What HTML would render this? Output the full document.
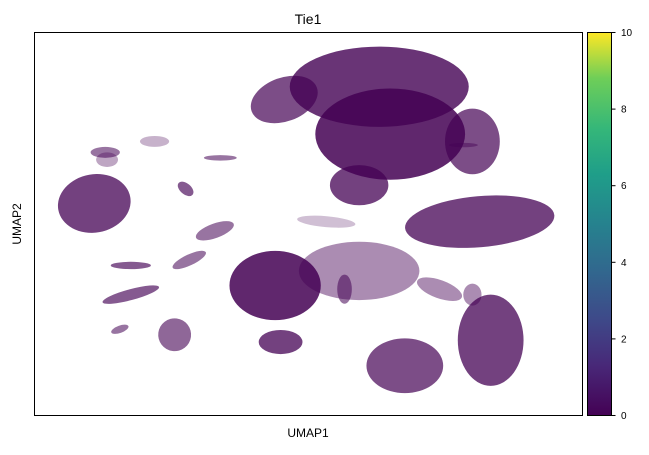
<!DOCTYPE html>
<html><head><meta charset="utf-8"><style>
body{margin:0;background:#fff;font-family:"Liberation Sans",sans-serif;}
svg text{font-family:"Liberation Sans",sans-serif;}
</style></head><body>
<svg id="chart" width="649" height="450">
<defs>
<linearGradient id="vir" x1="0" y1="1" x2="0" y2="0">
<stop offset="0" stop-color="#440154"/><stop offset="0.13" stop-color="#482878"/>
<stop offset="0.25" stop-color="#3e4989"/><stop offset="0.38" stop-color="#31688e"/>
<stop offset="0.5" stop-color="#26828e"/><stop offset="0.63" stop-color="#1f9e89"/>
<stop offset="0.75" stop-color="#35b779"/><stop offset="0.88" stop-color="#6ece58"/>
<stop offset="1" stop-color="#fde725"/>
</linearGradient>
<clipPath id="clip"><rect x="34" y="32" width="548" height="383"/></clipPath>
</defs>
<text x="308" y="24" font-size="14" text-anchor="middle">Tie1</text>
<g id="pts" clip-path="url(#clip)"></g>
<rect x="34.5" y="32.5" width="548" height="383" fill="none" stroke="#000" stroke-width="1"/>
<text x="308" y="437" font-size="12" text-anchor="middle">UMAP1</text>
<text x="21" y="224" font-size="12" text-anchor="middle" transform="rotate(-90 21 224)">UMAP2</text>
<rect x="587.5" y="32.5" width="24" height="383" fill="url(#vir)" stroke="#000" stroke-width="1"/>
<g id="cbticks"></g>
</svg>
<script>
const clusterX = [18.9,19.5,13.7,17.8,24.4,13.2,17.8,13.5,20.3,25.0,3.3,5.3,5.3,7.7,4.7,3.9,9.9,8.3,10.2,8.5,22.2,24.0,17.0,16.0,23.5,24.0,4.0,6.6];
const clusterY = [18.0,15.4,17.3,12.6,10.6,7.1,7.9,4.0,2.7,4.1,11.6,8.2,6.6,4.4,4.7,14.4,10.1,12.4,14.1,8.5,6.9,6.6,6.9,10.6,14.8,15.0,14.0,15.0];
const clusterRX = [4.9,4.1,1.9,1.6,4.1,2.5,3.3,1.2,2.1,1.8,2.0,1.1,1.6,0.9,0.5,0.8,1.1,0.5,0.9,1.0,1.3,0.5,0.4,1.6,0.8,1.5,0.6,0.8];
const clusterRY = [2.2,2.5,1.2,1.1,1.4,1.9,1.6,0.66,1.5,2.5,1.6,0.2,0.3,0.9,0.2,0.3,0.4,0.3,0.15,0.3,0.5,0.6,0.8,0.3,0.12,1.8,0.4,0.3];
const clusterRot = [0,0,-20,0,-5,0,0,0,0,0,-10,0,-15,30,-20,0,-20,40,0,-25,20,0,0,5,0,0,0,0];
const clusterDensity = [0.8,0.85,0.7,0.75,0.75,0.85,0.45,0.75,0.7,0.75,0.75,0.65,0.65,0.6,0.55,0.55,0.55,0.65,0.55,0.55,0.45,0.45,0.55,0.25,0.45,0.7,0.35,0.3];
const cbTicks = [0,2,4,6,8,10];

const NS="http://www.w3.org/2000/svg";
const xS = v => 34 + v/30*548;
const yS = v => 415 - v/21*383;
const kx = 548/30, ky = 383/21;
const g = document.getElementById('pts');
for (let i=0;i<clusterX.length;i++){
  const e=document.createElementNS(NS,'ellipse');
  const cx=xS(clusterX[i]), cy=yS(clusterY[i]);
  e.setAttribute('cx',cx); e.setAttribute('cy',cy);
  e.setAttribute('rx',clusterRX[i]*kx); e.setAttribute('ry',clusterRY[i]*ky);
  e.setAttribute('transform','rotate('+clusterRot[i]+' '+cx+' '+cy+')');
  e.setAttribute('fill','#440154'); e.setAttribute('fill-opacity',clusterDensity[i]);
  
  
  g.appendChild(e);
}
const cb=document.getElementById('cbticks');
const cS = v => 415 - v/10*383;
cbTicks.forEach(t=>{
  const l=document.createElementNS(NS,'line');
  l.setAttribute('x1',611.5);l.setAttribute('x2',615.5);
  l.setAttribute('y1',cS(t)+0.5);l.setAttribute('y2',cS(t)+0.5);
  l.setAttribute('stroke','#000');
  
  
  cb.appendChild(l);
  const tx=document.createElementNS(NS,'text');
  tx.setAttribute('x',621);tx.setAttribute('y',cS(t)+4);
  tx.setAttribute('font-size','10');tx.textContent=t;
  
  
  cb.appendChild(tx);
});
</script>
</body></html>
